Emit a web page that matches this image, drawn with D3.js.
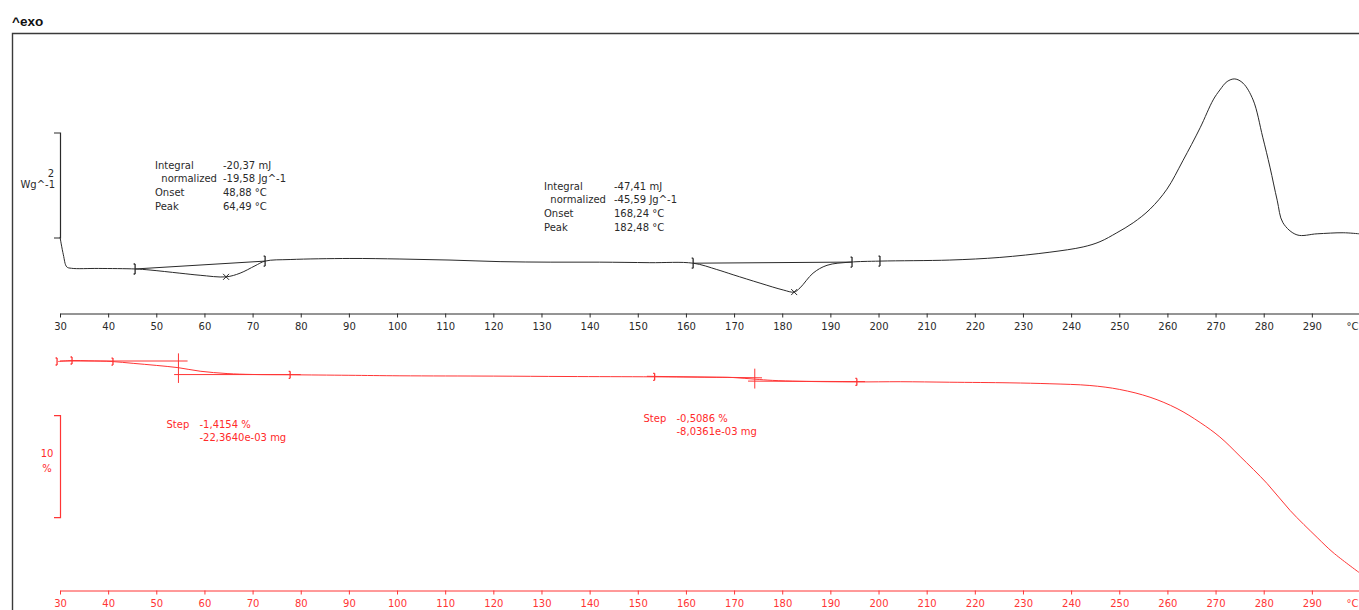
<!DOCTYPE html>
<html>
<head>
<meta charset="utf-8">
<script src="https://cdn.jsdelivr.net/npm/d3@7"></script>
<style>
  html, body { margin: 0; padding: 0; background: #fff; }
  svg { display: block; }
  text { font-family: "DejaVu Sans", Verdana, sans-serif; font-size: 10px; }
</style>
</head>
<body>
<svg id="chart" width="1359" height="610"></svg>
<script>
// ---- DSC signal (heat flow, W/g, exo up) ----
const dscTemp = [30, 30.7, 31.4, 32.4, 38, 45.6, 48.7, 54.9, 59.1, 64.49, 67.4, 70.5, 72.6, 77.8,
  90.2, 100.6, 111, 121.4, 131.8, 142.1, 152.5, 161.5, 166.4, 169.8, 175.4, 180.2, 182.48, 183.7,
  186.4, 189.3, 194.1, 200.3, 214.8, 225.2, 235.6, 242.5, 246, 249.5, 252.9, 256.4, 259.9, 263.2, 266.8,
  269.5, 270.9, 272.4, 274.0, 275.7, 277.8, 279.8, 281.3, 282.8, 284.0, 286.9, 291.1, 296.5, 299.8];
const dscValue = [0.02, -0.32, -0.55, -0.577, -0.58, -0.59, -0.61, -0.67, -0.71, -0.74, -0.67, -0.53, -0.44, -0.41,
  -0.39, -0.40, -0.42, -0.45, -0.46, -0.46, -0.47, -0.48, -0.60, -0.70, -0.86, -0.99, -1.03, -0.95,
  -0.67, -0.52, -0.46, -0.44, -0.42, -0.37, -0.27, -0.17, -0.07, 0.10, 0.29, 0.55, 0.93, 1.47, 2.10,
  2.63, 2.82, 2.98, 3.03, 2.95, 2.63, 1.92, 1.35, 0.72, 0.29, 0.06, 0.08, 0.10, 0.08];

// integration limits and peaks of the two endotherms
const dscLimits = [45.6, 72.6, 161.5, 194.5, 200.3];
const dscBaselines = [[45.6, 72.6], [161.5, 194.5]];
const dscPeaks = [64.49, 182.48];
const dscScaleBar = [0, 2];

// ---- TGA signal (mass, %) ----
const tgaTemp = [29.6, 32.5, 36, 40.8, 45.2, 50, 54.5, 59.1, 64.7, 70, 77.8, 90, 100.6, 120, 135.3,
  153.2, 165, 169.8, 174.3, 178, 183.7, 195.5, 204.5, 214.8, 227.3, 235.6, 243.9, 250.1, 256.4,
  262.0, 266.8, 270.9, 275.1, 280.7, 285.5, 291.1, 294.4, 299.8];
const tgaValue = [99.9, 100.0, 99.97, 99.9, 99.72, 99.52, 99.3, 98.95, 98.72, 98.63, 98.6, 98.55, 98.5, 98.47, 98.43,
  98.4, 98.36, 98.33, 98.17, 98.05, 97.96, 97.9, 97.92, 97.87, 97.81, 97.72, 97.55, 97.16, 96.40,
  95.29, 93.92, 92.5, 90.6, 87.94, 85.29, 82.65, 81.18, 79.22];
const tgaLimits = [32.5, 41, 77.8, 153.5, 195.5];
// step evaluation: tangent before, tangent after, midpoint temperature
const tgaSteps = [
  { mid: 54.6, upper: [[30, 99.95], [56.5, 99.95]], lower: [[53.7, 98.62], [80.0, 98.62]], span: [100.7, 97.8] },
  { mid: 174.3, upper: [[151.9, 98.45], [175.8, 98.3]], lower: [[172.9, 97.98], [197.2, 97.93]], span: [99.2, 97.25] }
];
const tgaScaleBar = [84.6, 94.6];

// ---- axis ticks and annotation texts ----
const majorTicks = d3.range(30, 301, 10);
const minorTicks = d3.range(30, 301, 2);
const dscLabels1 = ["Integral", "  normalized", "Onset", "Peak"];
const dscResults1 = ["-20,37 mJ", "-19,58 Jg^-1", "48,88 °C", "64,49 °C"];
const dscLabels2 = ["Integral", "  normalized", "Onset", "Peak"];
const dscResults2 = ["-47,41 mJ", "-45,59 Jg^-1", "168,24 °C", "182,48 °C"];
const tgaStep1 = ["-1,4154 %", "-22,3640e-03 mg"];
const tgaStep2 = ["-0,5086 %", "-8,0361e-03 mg"];

// ---- drawing ----
const svg = d3.select("#chart");
const black = "#2a2a2a";
const red = "#ff3535";
const redText = "#ff2a2a";

const x = d3.scaleLinear().domain([30, 300]).range([60, 1360]);
const yDsc = d3.scaleLinear().domain([0, 2]).range([238, 133]);
const yTga = d3.scaleLinear().domain([100, 90]).range([360.5, 462.5]);

const interp = (xs, ys) => t => {
  const i = Math.max(1, Math.min(xs.length - 1, d3.bisectLeft(xs, t)));
  const f = (t - xs[i - 1]) / (xs[i] - xs[i - 1]);
  return ys[i - 1] + f * (ys[i] - ys[i - 1]);
};
const dscAt = interp(dscTemp, dscValue);
const tgaAt = interp(tgaTemp, tgaValue);

// frame
svg.append("path").attr("d", "M12.5,610 V33.5 H1359")
  .attr("fill", "none").attr("stroke", "#3a3a3a").attr("stroke-width", 1.4);
svg.append("text").attr("x", 12).attr("y", 26).text("^exo")
  .style("font-family", "'Liberation Sans', Arial, sans-serif")
  .style("font-size", "13.5px").style("font-weight", "bold").attr("fill", "#111");

// axes
function drawAxis(yPos, color) {
  const g = svg.append("g").attr("transform", `translate(0,${yPos})`);
  g.call(d3.axisBottom(x).tickValues(minorTicks).tickSize(3).tickSizeOuter(0).tickFormat(""));
  g.call(d3.axisBottom(x).tickValues(majorTicks).tickSize(4).tickSizeOuter(0).tickPadding(5.5)
    .tickFormat(d => d === 300 ? "°C" : d));
  g.selectAll("path, line").attr("stroke", color);
  g.selectAll("text").attr("fill", color)
    .style("font-family", "'DejaVu Sans', Verdana, sans-serif").style("font-size", "10px");
  // unit label sits at the right edge, inside the page
  g.selectAll(".tick text").filter(d => d === 300).attr("text-anchor", "end").attr("x", -2);
}
drawAxis(313.5, black);
drawAxis(590.5, red);

// scale bars
function scaleBar(y0, y1, color) {
  svg.append("path").attr("d", `M54,${y0} H60.5 V${y1} H54`)
    .attr("fill", "none").attr("stroke", color).attr("stroke-width", 1.2);
}
scaleBar(yDsc(dscScaleBar[1]), yDsc(dscScaleBar[0]), black);
scaleBar(yTga(tgaScaleBar[1]), yTga(tgaScaleBar[0]), red);
svg.append("text").attr("x", 54).attr("y", 173).attr("dy", "0.35em").attr("text-anchor", "end").attr("fill", black).text("2");
svg.append("text").attr("x", 55).attr("y", 184).attr("dy", "0.35em").attr("text-anchor", "end").attr("fill", black).text("Wg^-1");
svg.append("text").attr("x", 47).attr("y", 453).attr("dy", "0.35em").attr("text-anchor", "middle").attr("fill", redText).text("10");
svg.append("text").attr("x", 47).attr("y", 468).attr("dy", "0.35em").attr("text-anchor", "middle").attr("fill", redText).text("%");

// DSC baselines and curve
const smooth = d3.curveCatmullRom.alpha(0.5);
const dscLine = d3.line().x(d => x(d[0])).y(d => yDsc(d[1])).curve(smooth);
dscBaselines.forEach(b => {
  svg.append("line")
    .attr("x1", x(b[0])).attr("y1", yDsc(dscAt(b[0])))
    .attr("x2", x(b[1])).attr("y2", yDsc(dscAt(b[1])))
    .attr("stroke", black).attr("stroke-width", 1);
});
svg.append("path").datum(dscTemp.map((t, i) => [t, dscValue[i]]))
  .attr("d", dscLine).attr("fill", "none").attr("stroke", black).attr("stroke-width", 1);

// limit markers
function limitMarker(cx, cy, color, h) {
  svg.append("path")
    .attr("d", `M${cx},${cy - h} V${cy + h} M${cx - 1.5},${cy - h} H${cx} M${cx - 1.5},${cy + h} H${cx}`)
    .attr("fill", "none").attr("stroke", color).attr("stroke-width", 1.3);
}
dscLimits.forEach(t => limitMarker(x(t), yDsc(dscAt(t)), black, 5));
dscPeaks.forEach(t => {
  const cx = x(t), cy = yDsc(dscAt(t));
  svg.append("path").attr("d", `M${cx - 3},${cy - 3} L${cx + 3},${cy + 3} M${cx - 3},${cy + 3} L${cx + 3},${cy - 3}`)
    .attr("stroke", black).attr("stroke-width", 1);
});

// DSC result blocks
function block(labels, values, lx, vx, y0, color) {
  labels.forEach((l, i) => {
    svg.append("text").attr("x", lx).attr("y", y0 + i * 13.7).attr("dy", "0.35em")
      .attr("fill", color).style("white-space", "pre").text(l);
  });
  values.forEach((v, i) => {
    svg.append("text").attr("x", vx).attr("y", y0 + i * 13.7).attr("dy", "0.35em")
      .attr("fill", color).text(v);
  });
}
block(dscLabels1, dscResults1, 155, 223, 165, black);
block(dscLabels2, dscResults2, 544, 614, 186, black);

// TGA step construction
tgaSteps.forEach(s => {
  [s.upper, s.lower].forEach(seg => {
    svg.append("line")
      .attr("x1", x(seg[0][0])).attr("y1", yTga(seg[0][1]))
      .attr("x2", x(seg[1][0])).attr("y2", yTga(seg[1][1]))
      .attr("stroke", red).attr("stroke-width", 1);
  });
  svg.append("line").attr("x1", x(s.mid)).attr("x2", x(s.mid))
    .attr("y1", yTga(s.span[0])).attr("y2", yTga(s.span[1]))
    .attr("stroke", red).attr("stroke-width", 1);
});

// TGA curve
const tgaLine = d3.line().x(d => x(d[0])).y(d => yTga(d[1])).curve(smooth);
svg.append("path").datum(tgaTemp.map((t, i) => [t, tgaValue[i]]))
  .attr("d", tgaLine).attr("fill", "none").attr("stroke", red).attr("stroke-width", 1);
limitMarker(x(tgaTemp[0]) - 1, yTga(tgaValue[0]), red, 3.5);
tgaLimits.forEach(t => limitMarker(x(t), yTga(tgaAt(t)), red, 3.5));

// TGA step texts
function stepText(values, sx, vx, y0) {
  svg.append("text").attr("x", sx).attr("y", y0).attr("dy", "0.35em").attr("fill", redText).text("Step");
  values.forEach((v, i) => {
    svg.append("text").attr("x", vx).attr("y", y0 + i * 13).attr("dy", "0.35em").attr("fill", redText).text(v);
  });
}
stepText(tgaStep1, 166.5, 199.5, 424);
stepText(tgaStep2, 643.5, 676.5, 418);
</script>
</body>
</html>
